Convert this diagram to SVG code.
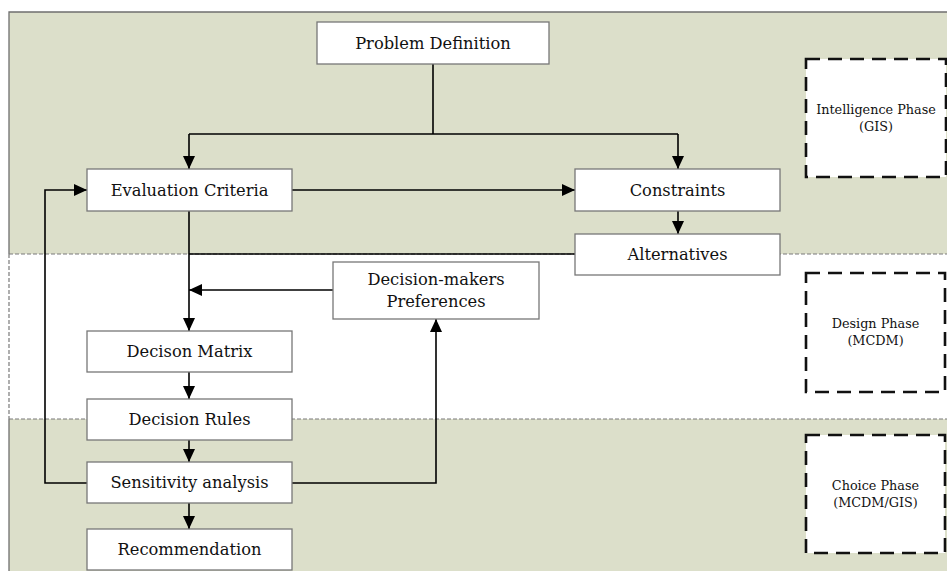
<svg xmlns="http://www.w3.org/2000/svg" width="947" height="571" viewBox="0 0 947 571">
<style>
.box{fill:#fff;stroke:#777;stroke-width:1.3}
.t{font-family:"DejaVu Serif","Liberation Serif",serif;font-size:16.3px;fill:#111;text-anchor:middle}
.pt{font-family:"DejaVu Serif","Liberation Serif",serif;font-size:12.8px;fill:#111;text-anchor:middle}
.phase{fill:#fff;stroke:#111;stroke-width:2.6;stroke-dasharray:14 8}
.c{fill:none;stroke:#000;stroke-width:1.6}
.band{fill:#dcdfca}
.bd{stroke:#6f6f6f;stroke-width:1.3;fill:none}
.dash{stroke:#7a7a7a;stroke-width:1.2;stroke-dasharray:4 2;fill:none}
</style>
<defs>
<marker id="a" viewBox="0 0 13 12" refX="13" refY="6" markerWidth="13" markerHeight="12" markerUnits="userSpaceOnUse" orient="auto">
<path d="M0,0 L13,6 L0,12 z" fill="#000"/>
</marker>
</defs>
<rect width="947" height="571" fill="#fff"/>
<g id="bands">
<rect class="band" x="9" y="12" width="940" height="242"/>
<rect class="band" x="9" y="419" width="940" height="154"/>
<path class="bd" d="M9,254 V12 H947"/>
<path class="bd" d="M9,419 V571"/>
<path class="dash" d="M9,254 V419"/>
<path class="dash" d="M9,254 H947"/>
<path class="dash" d="M9,419 H947"/>
</g>
<g id="connectors">
<path class="c" d="M433,64 V134"/>
<path class="c" d="M189,134 H678"/>
<path class="c" d="M189,134 V169" marker-end="url(#a)"/>
<path class="c" d="M678,134 V169" marker-end="url(#a)"/>
<path class="c" d="M292,190 H575" marker-end="url(#a)"/>
<path class="c" d="M678,211 V234" marker-end="url(#a)"/>
<path class="c" d="M575,254 H189"/>
<path class="c" d="M189,211 V331" marker-end="url(#a)"/>
<path class="c" d="M333,290 H189" marker-end="url(#a)"/>
<path class="c" d="M189,372 V399" marker-end="url(#a)"/>
<path class="c" d="M189,440 V462" marker-end="url(#a)"/>
<path class="c" d="M189,503 V529" marker-end="url(#a)"/>
<path class="c" d="M292,483 H436 V319" marker-end="url(#a)"/>
<path class="c" d="M87,483 H45 V190 H87" marker-end="url(#a)"/>
</g>
<g id="problem-definition"><rect class="box" x="317" y="22" width="232" height="42"/><text class="t" x="433" y="49">Problem Definition</text></g>
<g id="evaluation-criteria"><rect class="box" x="87" y="169" width="205" height="42"/><text class="t" x="189.5" y="196">Evaluation Criteria</text></g>
<g id="constraints"><rect class="box" x="575" y="169" width="205" height="42"/><text class="t" x="677.5" y="196">Constraints</text></g>
<g id="alternatives"><rect class="box" x="575" y="234" width="205" height="41"/><text class="t" x="677.5" y="260">Alternatives</text></g>
<g id="preferences"><rect class="box" x="333" y="262" width="206" height="57"/><text class="t" x="436" y="285">Decision-makers</text><text class="t" x="436" y="306.5">Preferences</text></g>
<g id="decision-matrix"><rect class="box" x="87" y="331" width="205" height="41"/><text class="t" x="189.5" y="357">Decison Matrix</text></g>
<g id="decision-rules"><rect class="box" x="87" y="399" width="205" height="41"/><text class="t" x="189.5" y="425">Decision Rules</text></g>
<g id="sensitivity"><rect class="box" x="87" y="462" width="205" height="41"/><text class="t" x="189.5" y="488">Sensitivity analysis</text></g>
<g id="recommendation"><rect class="box" x="87" y="529" width="205" height="41"/><text class="t" x="189.5" y="555">Recommendation</text></g>
<g id="intelligence-phase"><rect class="phase" x="806" y="59" width="140" height="118"/><text class="pt" x="876" y="114">Intelligence Phase</text><text class="pt" x="876" y="131">(GIS)</text></g>
<g id="design-phase"><rect class="phase" x="806" y="273" width="139" height="119"/><text class="pt" x="875.5" y="328">Design Phase</text><text class="pt" x="875.5" y="345">(MCDM)</text></g>
<g id="choice-phase"><rect class="phase" x="806" y="435" width="139" height="118"/><text class="pt" x="875.5" y="490">Choice Phase</text><text class="pt" x="875.5" y="507">(MCDM/GIS)</text></g>
</svg>
